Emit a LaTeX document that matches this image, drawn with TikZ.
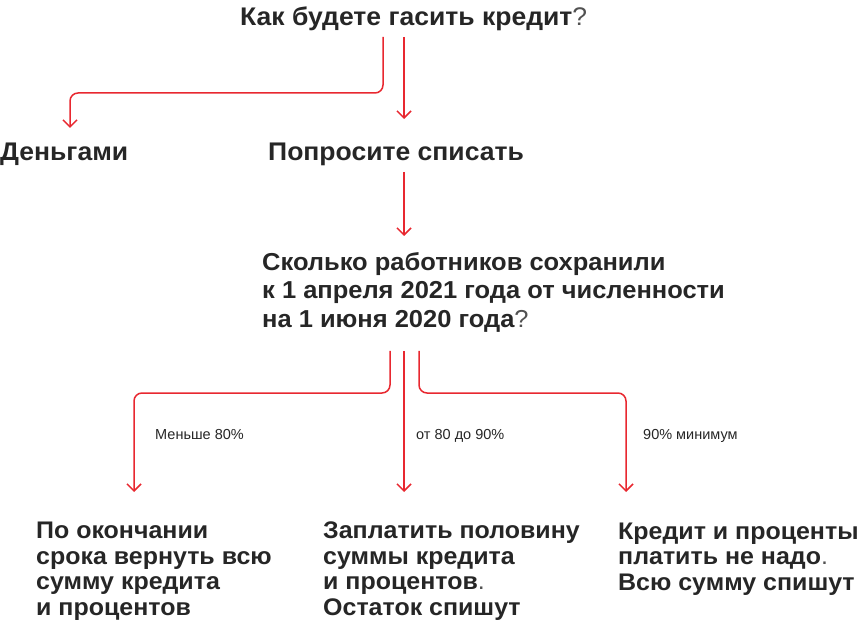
\documentclass[tikz,border=0pt]{standalone}
\usepackage{fontspec}
\setmainfont{Liberation Sans}
\newfontfamily\headfont[FakeStretch=1.04]{Liberation Sans}
\usetikzlibrary{arrows.meta}
\definecolor{linkred}{RGB}{232,40,48}
\definecolor{inkgray}{RGB}{38,38,38}
\newcommand{\thinq}{{\mdseries\color{inkgray!80}?}}
\newcommand{\thindot}{{\mdseries\color{inkgray!80}.}}
\tikzset{
  link/.style={linkred, line width=1.5pt, rounded corners=8pt,
    -{Straight Barb[length=7pt,width=14pt]}},
  question/.style={anchor=base west, inner sep=0pt, align=left, text=inkgray,
    font=\headfont\bfseries\fontsize{24.5}{28}\selectfont},
  topq/.style={question, font=\headfont\bfseries\fontsize{25.5}{28}\selectfont},
  answer/.style={question, font=\headfont\bfseries\fontsize{24}{25.5}\selectfont},
  cond/.style={anchor=base west, inner sep=0pt, text=inkgray,
    font=\fontsize{14.5}{15}\selectfont}
}
\begin{document}
\begin{tikzpicture}[x=1pt,y=-1pt]
\useasboundingbox (0,0) rectangle (865,628);
% questions (multi-line nodes sit on their last baseline)
\node[topq] (howpay) at (240,26) {Как будете гасить кредит\thinq};
\node[topq] (money) at (0,161) {Деньгами};
\node[topq] (writeoff) at (268,161) {Попросите списать};
\node[question] (staff) at (262,327)
  {Сколько работников сохранили\\к 1 апреля 2021 года от численности\\на 1 июня 2020 года\thinq};
% outcomes
\node[answer] (less) at (36,615) {По окончании\\срока вернуть всю\\сумму кредита\\и процентов};
\node[answer] (half) at (323,615) {Заплатить половину\\суммы кредита\\и процентов\thindot\\Остаток спишут};
\node[answer] (none) at (618,590) {Кредит и проценты\\платить не надо\thindot\\Всю сумму спишут};
% branch points
\coordinate (p1) at (383,37);
\coordinate (p2) at (404,37);
\coordinate (p3) at (404,172);
\coordinate (s1) at (390,351);
\coordinate (s2) at (404,351);
\coordinate (s3) at (419,351);
\draw[link] (p1) -- (383,93) -- (70,93) -- (70,128);
\draw[link] (p2) -- (404,119);
\draw[link] (p3) -- (404,236);
\draw[link] (s1) -- (390,393) -- (134,393) -- (134,492);
\draw[link] (s2) -- (404,492);
\draw[link] (s3) -- (419,393) -- (626,393) -- (626,492);
% conditions
\node[cond] (lt80) at (155,439) {Меньше 80\%};
\node[cond] (mid80) at (416,439) {от 80 до 90\%};
\node[cond] (gt90) at (643,439) {90\% минимум};
\end{tikzpicture}
\end{document}
